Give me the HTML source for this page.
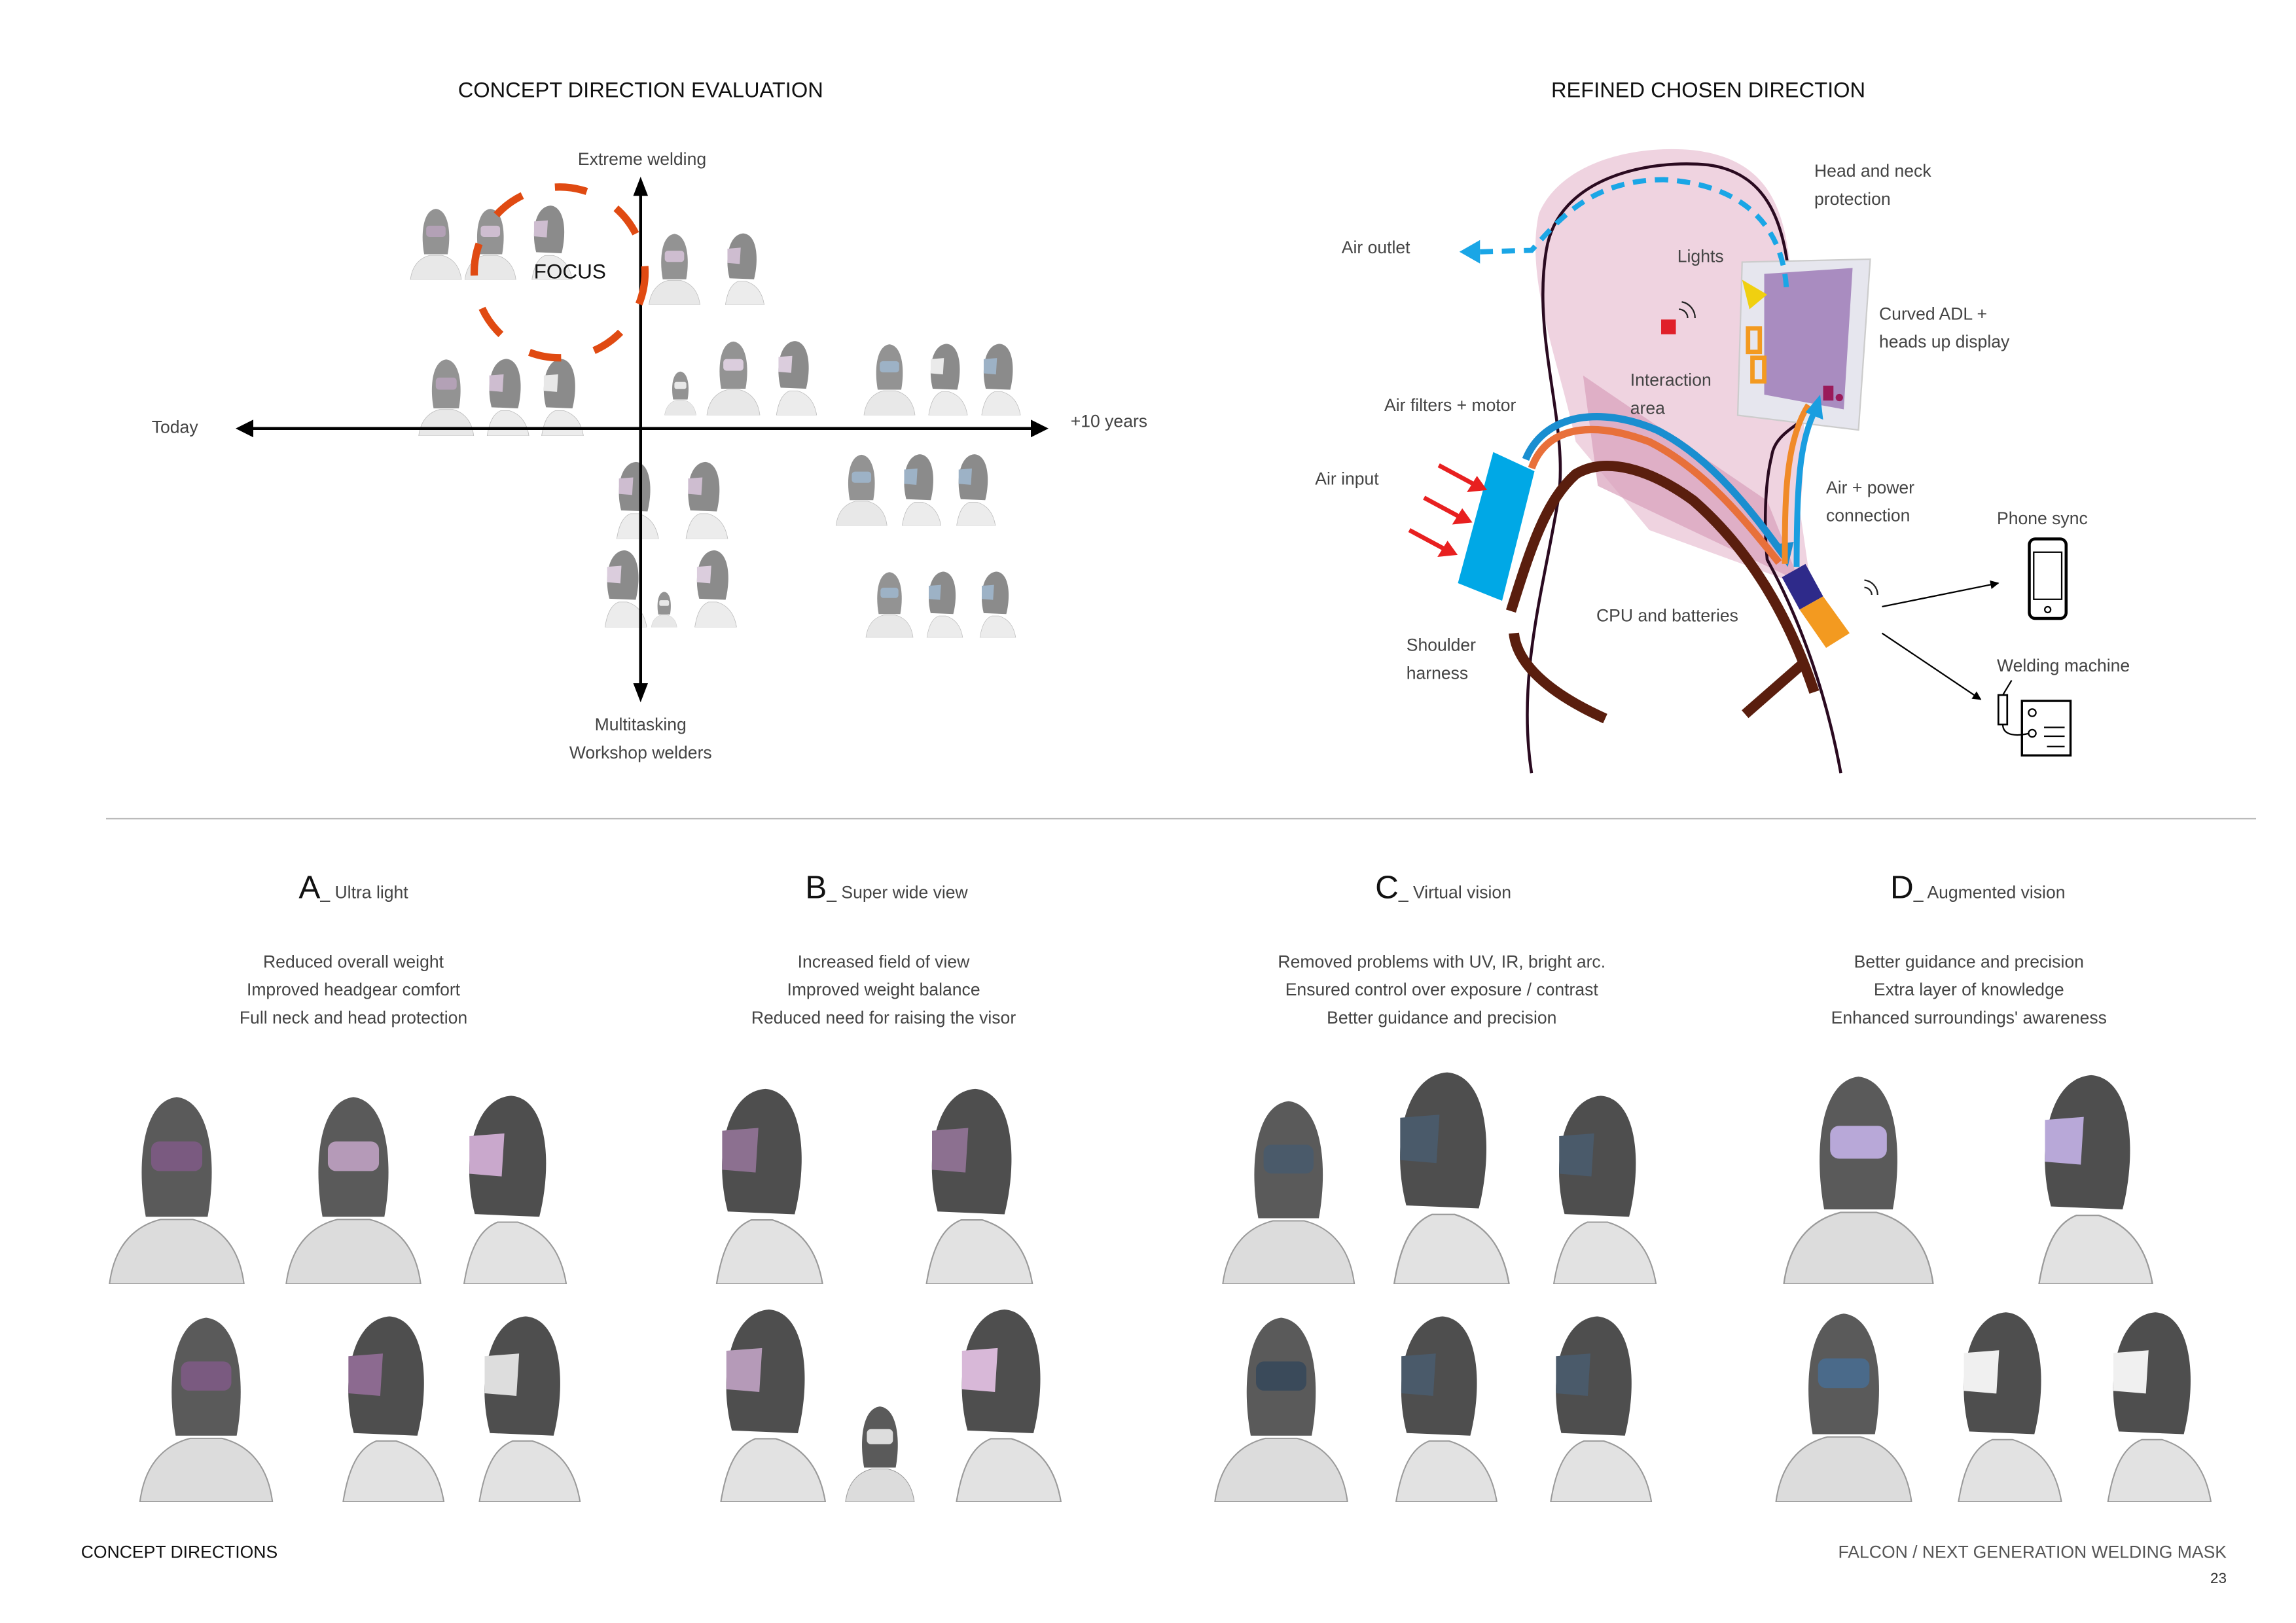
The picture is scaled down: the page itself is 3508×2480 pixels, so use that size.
<!DOCTYPE html>
<html><head><meta charset="utf-8"><style>
html,body{margin:0;padding:0;background:#fff;}
svg{display:block;}
text{font-family:"Liberation Sans",sans-serif;}
.l{font-size:11.8px;fill:#444;}
.t{font-size:14.5px;fill:#111;}
.m{text-anchor:middle;}
</style></head><body>
<svg width="3508" height="2480" viewBox="0 0 1559.1 1102.2" xmlns="http://www.w3.org/2000/svg">
<defs>
<symbol id="bust" viewBox="0 0 100 150">
 <path d="M0,150 C4,118 22,106 38,102 L62,102 C78,106 96,118 100,150 Z" fill="#dcdcdc" stroke="#9a9a9a" stroke-width="1"/>
 <path d="M27,100 C20,62 24,14 50,11 C76,14 80,62 73,100 Z" fill="#5a5a5a"/>
 <rect x="31" y="44" width="38" height="22" rx="6" fill="currentColor"/>
</symbol>
<symbol id="side" viewBox="0 0 100 150">
 <path d="M20,150 C25,118 35,108 45,104 L60,104 C80,110 92,125 96,150 Z" fill="#e2e2e2" stroke="#9a9a9a" stroke-width="1"/>
 <path d="M28,98 C18,60 26,12 55,10 C82,12 86,60 76,100 Z" fill="#4e4e4e"/>
 <path d="M24,40 L50,38 L48,70 L24,68 Z" fill="currentColor"/>
</symbol>
<marker id="ah" viewBox="0 0 10 10" refX="9" refY="5" markerWidth="6" markerHeight="6" orient="auto"><path d="M0,0 L10,5 L0,10 Z" fill="#000"/></marker>
</defs>

<text x="435" y="66" class="t m">CONCEPT DIRECTION EVALUATION</text>
<text x="1160" y="66" class="t m">REFINED CHOSEN DIRECTION</text>

<g opacity="0.65">
<use href="#bust" x="278" y="138" width="36" height="52" style="color:#8c7090"/>
<use href="#bust" x="315" y="138" width="36" height="52" style="color:#b59ab8"/>
<use href="#side" x="352" y="136" width="40" height="54" style="color:#b59ab8"/>
<use href="#bust" x="437" y="155" width="42" height="52" style="color:#b59ab8"/>
<use href="#side" x="482" y="155" width="42" height="52" style="color:#b59ab8"/>
<use href="#bust" x="283" y="240" width="40" height="56" style="color:#8c7090"/>
<use href="#side" x="322" y="240" width="40" height="56" style="color:#b59ab8"/>
<use href="#side" x="360" y="240" width="38" height="56" style="color:#ddd"/>
<use href="#bust" x="448" y="250" width="28" height="32" style="color:#ddd"/>
<use href="#bust" x="478" y="228" width="40" height="54" style="color:#c9b3cc"/>
<use href="#side" x="518" y="228" width="40" height="54" style="color:#c9b3cc"/>
<use href="#bust" x="585" y="230" width="38" height="52" style="color:#6a8aa8"/>
<use href="#side" x="622" y="230" width="38" height="52" style="color:#e0e0e0"/>
<use href="#side" x="658" y="230" width="38" height="52" style="color:#6a8aa8"/>
<use href="#side" x="408" y="310" width="44" height="56" style="color:#b59ab8"/>
<use href="#side" x="455" y="310" width="44" height="56" style="color:#b59ab8"/>
<use href="#side" x="402" y="370" width="40" height="56" style="color:#c9b3cc"/>
<use href="#bust" x="440" y="400" width="22" height="26" style="color:#ddd"/>
<use href="#side" x="462" y="370" width="42" height="56" style="color:#c9b3cc"/>
<use href="#bust" x="565" y="305" width="40" height="52" style="color:#6a8aa8"/>
<use href="#side" x="603" y="305" width="40" height="52" style="color:#6a8aa8"/>
<use href="#side" x="640" y="305" width="40" height="52" style="color:#6a8aa8"/>
<use href="#bust" x="585" y="385" width="38" height="48" style="color:#6a8aa8"/>
<use href="#side" x="620" y="385" width="38" height="48" style="color:#6a8aa8"/>
<use href="#side" x="655" y="385" width="40" height="48" style="color:#6a8aa8"/>
</g>

<line x1="168" y1="291" x2="704" y2="291" stroke="#000" stroke-width="2"/>
<path d="M160,291 L172,285 L172,297 Z" fill="#000"/>
<path d="M712,291 L700,285 L700,297 Z" fill="#000"/>
<line x1="435" y1="130" x2="435" y2="468" stroke="#000" stroke-width="2"/>
<path d="M435,120 L430,133 L440,133 Z" fill="#000"/>
<path d="M435,477 L430,464 L440,464 Z" fill="#000"/>
<circle cx="380" cy="185" r="58" fill="none" stroke="#e04a12" stroke-width="5" stroke-dasharray="22 23"/>
<text x="387" y="189" font-size="14" fill="#111" class="m">FOCUS</text>
<text x="103" y="294" class="l">Today</text>
<text x="727" y="290" class="l">+10 years</text>
<text x="436" y="112" class="l m">Extreme welding</text>
<text x="435" y="496" class="l m">Multitasking</text>
<text x="435" y="515" class="l m">Workshop welders</text>

<path d="M1045,145 C1060,110 1110,98 1150,102 C1200,108 1212,140 1216,185 L1225,260 C1225,300 1225,330 1222,345 L1230,400 L1120,360 L1070,300 C1060,250 1035,190 1045,145 Z" fill="#efd3e0"/>
<path d="M1075,255 L1200,340 L1222,395 L1085,330 Z" fill="#d9a0bb" opacity="0.7"/>
<path d="M1040,525 C1030,460 1048,400 1058,340 C1066,290 1040,230 1050,170 C1058,120 1120,108 1160,112 C1205,118 1213,160 1216,200 C1222,220 1232,240 1236,255 C1232,265 1228,270 1230,280 C1220,290 1205,295 1203,310 C1198,330 1198,360 1200,380 C1222,420 1240,470 1250,525" fill="none" stroke="#2a0a20" stroke-width="2"/>
<path d="M1183,178 L1270,176 L1262,292 L1180,282 Z" fill="#e6e6ee" stroke="#ccc"/>
<path d="M1198,186 L1258,182 L1252,278 L1198,268 Z" fill="#a98cc0"/>
<path d="M1183,190 L1200,200 L1188,210 Z" fill="#f0d010"/>
<rect x="1187" y="223" width="8" height="16" fill="none" stroke="#f39a20" stroke-width="3"/>
<rect x="1190" y="243" width="8" height="16" fill="none" stroke="#f39a20" stroke-width="3"/>
<rect x="1238" y="262" width="7" height="10" fill="#9a1a5a"/>
<circle cx="1249" cy="270" r="2.5" fill="#9a1a5a"/>
<rect x="1128" y="217" width="10" height="10" fill="#e0202a"/>
<path d="M1140,210 a6,6 0 0 1 6,6 M1142,205 a11,11 0 0 1 9,11" stroke="#222" fill="none" stroke-width="1"/>
<path d="M1213,195 C1210,150 1180,125 1130,122 C1080,122 1058,150 1040,170 L1005,171" fill="none" stroke="#1aa6e6" stroke-width="3.5" stroke-dasharray="9 6"/>
<path d="M991,171 L1005,163 L1005,179 Z" fill="#1aa6e6"/>
<path d="M1040,318 C1050,290 1080,285 1120,300 C1160,320 1190,360 1208,382" fill="none" stroke="#e8703a" stroke-width="5"/>
<path d="M1036,312 C1048,282 1085,275 1125,292 C1165,312 1195,355 1212,378" fill="none" stroke="#1a8ed0" stroke-width="5"/>
<path d="M1214,385 L1203,370 L1218,368 Z" fill="#1a8ed0"/>
<path d="M1212,383 C1212,340 1212,300 1228,275" fill="none" stroke="#f08a28" stroke-width="4"/>
<path d="M1220,385 C1220,330 1222,300 1232,280" fill="none" stroke="#1a9ee0" stroke-width="4"/>
<path d="M1236,268 L1238,285 L1226,280 Z" fill="#1a9ee0"/>
<path d="M1014,307 L1042,320 L1020,408 L990,396 Z" fill="#00a8e6"/>
<g stroke="#e82020" stroke-width="3">
<line x1="977" y1="316" x2="1003" y2="330"/><line x1="967" y1="338" x2="993" y2="352"/><line x1="957" y1="360" x2="983" y2="374"/></g>
<path d="M1008,332 L998,333 L1003,325 Z M998,354 L988,355 L993,347 Z M988,376 L978,377 L983,369 Z" fill="#e82020" stroke="#e82020" stroke-width="2"/>
<path d="M1026,415 C1040,370 1050,340 1070,322 C1090,310 1120,318 1150,340 C1190,375 1215,420 1232,470" fill="none" stroke="#5a1e0e" stroke-width="7"/>
<path d="M1028,430 C1030,450 1050,470 1090,488" fill="none" stroke="#5a1e0e" stroke-width="7"/>
<line x1="1185" y1="485" x2="1225" y2="450" stroke="#5a1e0e" stroke-width="7"/>
<path d="M1210,392 L1226,383 L1238,405 L1222,414 Z" fill="#2e2a8a"/>
<path d="M1222,414 L1238,405 L1256,430 L1240,440 Z" fill="#f39a20"/>
<path d="M1266,399 a5,5 0 0 1 5,5 M1266,394 a10,10 0 0 1 9,10" stroke="#222" fill="none" stroke-width="1"/>
<line x1="1278" y1="412" x2="1357" y2="396" stroke="#000" stroke-width="1" marker-end="url(#ah)"/>
<line x1="1278" y1="430" x2="1345" y2="475" stroke="#000" stroke-width="1" marker-end="url(#ah)"/>
<rect x="1378" y="366" width="25" height="54" rx="4" fill="none" stroke="#000" stroke-width="2"/>
<rect x="1381" y="375" width="19" height="32" fill="none" stroke="#000" stroke-width="1"/>
<circle cx="1390.5" cy="414" r="2" fill="none" stroke="#000"/>
<rect x="1373" y="476" width="33" height="37" fill="none" stroke="#000" stroke-width="1.5"/>
<rect x="1357" y="472" width="6" height="20" fill="none" stroke="#000" stroke-width="1.2"/>
<path d="M1360,472 L1366,462 M1360,492 C1360,500 1370,500 1378,498" fill="none" stroke="#000"/>
<circle cx="1380" cy="484" r="2.5" fill="none" stroke="#000"/><circle cx="1380" cy="498" r="2.5" fill="none" stroke="#000"/>
<path d="M1388,494 h14 M1388,500 h14 M1390,507 h12" stroke="#000"/>
<text x="1232" y="120" class="l">Head and neck</text>
<text x="1232" y="139" class="l">protection</text>
<text x="911" y="172" class="l">Air outlet</text>
<text x="1139" y="178" class="l">Lights</text>
<text x="1276" y="217" class="l">Curved ADL +</text>
<text x="1276" y="236" class="l">heads up display</text>
<text x="1107" y="262" class="l">Interaction</text>
<text x="1107" y="281" class="l">area</text>
<text x="940" y="279" class="l">Air filters + motor</text>
<text x="893" y="329" class="l">Air input</text>
<text x="1240" y="335" class="l">Air + power</text>
<text x="1240" y="354" class="l">connection</text>
<text x="1356" y="356" class="l">Phone sync</text>
<text x="1084" y="422" class="l">CPU and batteries</text>
<text x="955" y="442" class="l">Shoulder</text>
<text x="955" y="461" class="l">harness</text>
<text x="1356" y="456" class="l">Welding machine</text>

<line x1="72" y1="556" x2="1532" y2="556" stroke="#bbb" stroke-width="1"/>

<g class="l">
<text x="240" y="610" class="m"><tspan font-size="22" fill="#111">A</tspan><tspan font-size="11.8">_ Ultra light</tspan></text>
<text x="240" y="657" class="m">Reduced overall weight</text>
<text x="240" y="676" class="m">Improved headgear comfort</text>
<text x="240" y="695" class="m">Full neck and head protection</text>
<text x="602" y="610" class="m"><tspan font-size="22" fill="#111">B</tspan><tspan font-size="11.8">_ Super wide view</tspan></text>
<text x="600" y="657" class="m">Increased field of view</text>
<text x="600" y="676" class="m">Improved weight balance</text>
<text x="600" y="695" class="m">Reduced need for raising the visor</text>
<text x="980" y="610" class="m"><tspan font-size="22" fill="#111">C</tspan><tspan font-size="11.8">_ Virtual vision</tspan></text>
<text x="979" y="657" class="m">Removed problems with UV, IR, bright arc.</text>
<text x="979" y="676" class="m">Ensured control over exposure / contrast</text>
<text x="979" y="695" class="m">Better guidance and precision</text>
<text x="1343" y="610" class="m"><tspan font-size="22" fill="#111">D</tspan><tspan font-size="11.8">_ Augmented vision</tspan></text>
<text x="1337" y="657" class="m">Better guidance and precision</text>
<text x="1337" y="676" class="m">Extra layer of knowledge</text>
<text x="1337" y="695" class="m">Enhanced surroundings' awareness</text>
</g>

<use href="#bust" x="65" y="735" width="110" height="137" style="color:#7a5a80"/>
<use href="#bust" x="180" y="735" width="120" height="137" style="color:#b59ab8"/>
<use href="#side" x="290" y="735" width="105" height="137" style="color:#c9a8cc"/>
<use href="#bust" x="70" y="885" width="140" height="135" style="color:#7a5a80"/>
<use href="#side" x="215" y="885" width="90" height="135" style="color:#8c6a90"/>
<use href="#side" x="305" y="885" width="95" height="135" style="color:#ddd"/>
<use href="#side" x="460" y="730" width="110" height="142" style="color:#8c7090"/>
<use href="#side" x="600" y="730" width="115" height="142" style="color:#8c7090"/>
<use href="#side" x="470" y="880" width="95" height="140" style="color:#b59ab8"/>
<use href="#bust" x="570" y="950" width="55" height="70" style="color:#ddd"/>
<use href="#side" x="630" y="880" width="95" height="140" style="color:#d8b8d8"/>
<use href="#bust" x="795" y="738" width="160" height="134" style="color:#4a5a6a"/>
<use href="#side" x="920" y="718" width="115" height="154" style="color:#4a5a6a"/>
<use href="#side" x="1030" y="735" width="105" height="137" style="color:#4a5a6a"/>
<use href="#bust" x="795" y="885" width="150" height="135" style="color:#3a4a5a"/>
<use href="#side" x="925" y="885" width="100" height="135" style="color:#4a5a6a"/>
<use href="#side" x="1030" y="885" width="100" height="135" style="color:#4a5a6a"/>
<use href="#bust" x="1172" y="720" width="180" height="152" style="color:#b8a8d8"/>
<use href="#side" x="1360" y="720" width="110" height="152" style="color:#b8a8d8"/>
<use href="#bust" x="1172" y="882" width="160" height="138" style="color:#4a6a8a"/>
<use href="#side" x="1310" y="882" width="95" height="138" style="color:#f0f0f0"/>
<use href="#side" x="1410" y="882" width="98" height="138" style="color:#f0f0f0"/>

<text x="55" y="1058" font-size="11.8" fill="#111">CONCEPT DIRECTIONS</text>
<text x="1512" y="1058" font-size="11.8" fill="#555" text-anchor="end">FALCON / NEXT GENERATION WELDING MASK</text>
<text x="1512" y="1075" font-size="10" fill="#333" text-anchor="end">23</text>
</svg>
</body></html>
